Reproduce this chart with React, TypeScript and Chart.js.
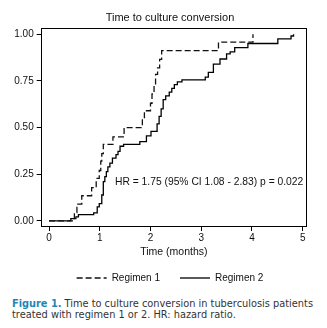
import React, { useEffect, useRef } from "react";
import { Chart, registerables } from "chart.js";

Chart.register(...registerables);

const chartTitle = "Time to culture conversion";
const xAxisTitle = "Time (months)";
const seriesNames = ["Regimen 1", "Regimen 2"];

const r1Times = [0, 0.5, 0.55, 0.645, 0.84, 0.93, 0.99, 1.02, 1.04, 1.07, 1.26, 1.48, 1.84, 1.88, 2.0, 2.03, 2.07, 2.1, 2.14, 2.18, 2.22, 3.34, 4.02];
const r1Values = [0, 0.045, 0.09, 0.135, 0.178, 0.228, 0.27, 0.32, 0.36, 0.41, 0.45, 0.5, 0.545, 0.59, 0.63, 0.68, 0.73, 0.785, 0.82, 0.865, 0.912, 0.957, 1.0];

const r2Times = [0, 0.43, 0.53, 0.58, 0.88, 0.95, 0.99, 1.04, 1.07, 1.1, 1.13, 1.16, 1.2, 1.25, 1.32, 1.36, 1.4, 1.47, 1.79, 1.92, 2.01, 2.13, 2.17, 2.21, 2.25, 2.3, 2.37, 2.42, 2.47, 2.53, 2.62, 3.08, 3.14, 3.24, 3.37, 3.5, 3.57, 3.66, 3.92, 4.51, 4.77, 4.82];
const r2Values = [0, 0.012, 0.022, 0.034, 0.043, 0.075, 0.093, 0.139, 0.21, 0.237, 0.264, 0.29, 0.31, 0.336, 0.355, 0.372, 0.4, 0.41, 0.425, 0.455, 0.48, 0.52, 0.56, 0.6, 0.65, 0.67, 0.69, 0.71, 0.73, 0.745, 0.755, 0.77, 0.795, 0.84, 0.867, 0.894, 0.905, 0.928, 0.95, 0.975, 0.99, 1.0];

const xTickValues = [0, 1, 2, 3, 4, 5];
const yTickValues = [0, 0.25, 0.5, 0.75, 1.0];

const annotationText = "HR = 1.75 (95% CI 1.08 - 2.83) p = 0.022";
const annotationX = 1.3;
const annotationY = 0.21;

const captionLead = "Figure 1.";
const captionLine1 = " Time to culture conversion in tuberculosis patients";
const captionLine2 = "treated with regimen 1 or 2. HR: hazard ratio.";

const FONT = "'Liberation Sans', Arial, sans-serif";
const DASH = [6, 3];

const framePlugin = {
  id: "frameAndNote",
  afterDatasetsDraw(chart: any) {
    const { ctx, chartArea: a, scales } = chart;
    ctx.save();
    ctx.strokeStyle = "#000";
    ctx.lineWidth = 1;
    ctx.setLineDash([]);
    const l = Math.round(a.left) + 0.5;
    const t = Math.round(a.top) + 0.5;
    const r = Math.round(a.right) - 0.5;
    const b = Math.round(a.bottom) - 0.5;
    ctx.strokeRect(l, t, r - l, b - t);
    ctx.font = `10.3px ${FONT}`;
    ctx.fillStyle = "#111";
    ctx.textAlign = "left";
    ctx.textBaseline = "middle";
    ctx.fillText(annotationText, scales.x.getPixelForValue(annotationX), scales.y.getPixelForValue(annotationY));
    ctx.restore();
  },
};

export default function App() {
  const ref = useRef<HTMLCanvasElement | null>(null);

  useEffect(() => {
    document.body.style.margin = "0";
    const canvas = ref.current;
    if (!canvas) return;
    const chart = new Chart(canvas, {
      type: "line",
      data: {
        datasets: [
          {
            label: seriesNames[0],
            data: r1Times.map((t, i) => ({ x: t, y: r1Values[i] })),
            borderColor: "#111",
            borderWidth: 1.3,
            borderDash: DASH,
            stepped: "before",
            pointRadius: 0,
            fill: false,
          },
          {
            label: seriesNames[1],
            data: r2Times.map((t, i) => ({ x: t, y: r2Values[i] })),
            borderColor: "#000",
            borderWidth: 1.3,
            stepped: "before",
            pointRadius: 0,
            fill: false,
          },
        ],
      },
      options: {
        animation: false,
        responsive: false,
        devicePixelRatio: 1,
        layout: { padding: { left: 13, right: 0, top: 0, bottom: 0 } },
        font: { family: FONT },
        plugins: {
          title: {
            display: true,
            text: chartTitle,
            color: "#111",
            font: { family: FONT, size: 11, weight: "normal" },
            padding: { top: 11.8, bottom: 3.4 },
          },
          legend: {
            position: "bottom",
            labels: {
              usePointStyle: true,
              pointStyle: "line",
              pointStyleWidth: 30,
              padding: 20,
              color: "#111",
              font: { family: FONT, size: 10 },
              generateLabels: (c: any) => {
                const items = Chart.defaults.plugins.legend.labels.generateLabels(c);
                return items.map((it: any) => {
                  const ds = c.data.datasets[it.datasetIndex];
                  return { ...it, lineDash: ds.borderDash || [], lineWidth: 1.3, pointStyle: "line" };
                });
              },
            },
          },
          tooltip: { enabled: false },
        },
        scales: {
          x: {
            type: "linear",
            min: -0.164,
            max: 5.085,
            afterBuildTicks: (s: any) => {
              s.ticks = xTickValues.map((v) => ({ value: v }));
            },
            afterFit: (s: any) => {
              s.height = 26;
            },
            ticks: {
              color: "#111",
              font: { family: FONT, size: 10 },
              padding: 1,
              maxRotation: 0,
              autoSkip: false,
              callback: (v: any) => String(v),
            },
            grid: { drawOnChartArea: false, drawTicks: true, tickLength: 4, color: "#000", lineWidth: 1 },
            border: { display: false },
            title: {
              display: true,
              text: xAxisTitle,
              color: "#111",
              font: { family: FONT, size: 10.5 },
              padding: { top: 0, bottom: -5 },
            },
          },
          y: {
            type: "linear",
            min: -0.0324,
            max: 1.0308,
            afterBuildTicks: (s: any) => {
              s.ticks = yTickValues.map((v) => ({ value: v }));
            },
            afterFit: (s: any) => {
              s.width = 27.7;
            },
            ticks: {
              color: "#111",
              font: { family: FONT, size: 10 },
              padding: 3,
              callback: (v: any) => Number(v).toFixed(2),
            },
            grid: { drawOnChartArea: false, drawTicks: true, tickLength: 4, color: "#000", lineWidth: 1 },
            border: { display: false },
          },
          yRight: {
            type: "linear",
            position: "right",
            display: true,
            min: 0,
            max: 1,
            afterFit: (s: any) => {
              s.width = 20;
            },
            ticks: { display: false },
            grid: { display: false, drawTicks: false },
            border: { display: false },
          },
        },
      },
      plugins: [framePlugin],
    } as any);
    return () => chart.destroy();
  }, []);

  return (
    <div style={{ width: 327, height: 328, position: "relative", background: "#fff" }}>
      <canvas ref={ref} width={327} height={293} style={{ display: "block" }} />
      <div
        style={{
          position: "absolute",
          left: 12,
          top: 298,
          fontFamily: "'DejaVu Sans', Verdana, sans-serif",
          fontSize: 9.8,
          lineHeight: "11px",
          color: "#333",
          whiteSpace: "nowrap",
        }}
      >
        <span style={{ color: "#1f86b5", fontWeight: "bold" }}>{captionLead}</span>
        {captionLine1}
        <br />
        {captionLine2}
      </div>
    </div>
  );
}
